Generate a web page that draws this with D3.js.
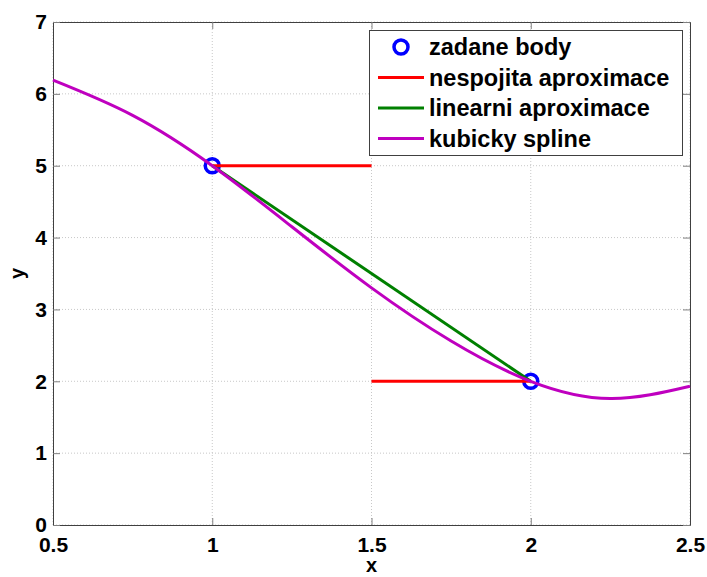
<!DOCTYPE html>
<html><head><meta charset="utf-8">
<script src="https://cdn.jsdelivr.net/npm/d3@7"></script>
<style>body{margin:0;background:#fff}svg{display:block}</style>
</head><body>
<script>
const givenX = [1, 2];
const givenY = [5, 2];
const stepSegments = [[[1, 5], [1.5, 5]], [[1.5, 2], [2, 2]]];
const linearX = [1, 2];
const linearY = [5, 2];
const splineX = [0.5, 0.75, 1, 1.25, 1.5, 1.75, 2, 2.25, 2.5];
const splineY = [6.19, 5.70, 5.0, 4.15, 3.30, 2.56, 2.0, 1.76, 1.93];
const xTicks = [0.5, 1, 1.5, 2, 2.5];
const yTicks = [0, 1, 2, 3, 4, 5, 6, 7];
const legendLabels = ["zadane body", "nespojita aproximace", "linearni aproximace", "kubicky spline"];

const W = 707, H = 577;
const m = {l: 53, r: 17, t: 22, b: 52};
const svg = d3.select("body").append("svg").attr("width", W).attr("height", H);
const x = d3.scaleLinear().domain([0.5, 2.5]).range([m.l, W - m.r]);
const y = d3.scaleLinear().domain([0, 7]).range([H - m.b, m.t]);
const font = "'Liberation Sans', Arial, sans-serif";

// grid
const g = svg.append("g");
g.selectAll(".gx").data(xTicks).join("line")
  .attr("x1", d => x(d)).attr("x2", d => x(d)).attr("y1", y(0)).attr("y2", y(7))
  .attr("stroke", "#c8c8c8").attr("stroke-dasharray", "1,2");
g.selectAll(".gy").data(yTicks).join("line")
  .attr("y1", d => y(d)).attr("y2", d => y(d)).attr("x1", x(0.5)).attr("x2", x(2.5))
  .attr("stroke", "#c8c8c8").attr("stroke-dasharray", "1,2");

// axes with inner ticks
const axB = d3.axisBottom(x).tickValues(xTicks).tickSizeInner(-7).tickSizeOuter(0).tickPadding(12).tickFormat(d3.format(""));
const axT = d3.axisTop(x).tickValues(xTicks).tickSizeInner(-7).tickSizeOuter(0).tickFormat("");
const axL = d3.axisLeft(y).tickValues(yTicks).tickSizeInner(-7).tickSizeOuter(0).tickPadding(6).tickFormat(d3.format(""));
const axR = d3.axisRight(y).tickValues(yTicks).tickSizeInner(-7).tickSizeOuter(0).tickFormat("");
function style(sel){
  sel.select(".domain").attr("stroke", "#404040");
  sel.selectAll(".tick line").attr("stroke", "#808080");
  sel.selectAll("text").attr("fill", "#000").style("font-family", font).style("font-size", "21px").style("font-weight", "bold");
}
svg.append("g").attr("transform", `translate(0,${y(0)})`).call(axB).call(style);
svg.append("g").attr("transform", `translate(0,${y(7)})`).call(axT).call(style);
svg.append("g").attr("transform", `translate(${x(0.5)},0)`).call(axL).call(style);
svg.append("g").attr("transform", `translate(${x(2.5)},0)`).call(axR).call(style);

// axis labels
svg.append("text").attr("x", x(1.5)).attr("y", 572).attr("text-anchor", "middle")
  .style("font-family", font).style("font-size", "20px").style("font-weight", "bold").text("x");
svg.append("text").attr("transform", `translate(24,${y(3.5)}) rotate(-90)`).attr("text-anchor", "middle")
  .style("font-family", font).style("font-size", "20px").style("font-weight", "bold").text("y");

// data
const plot = svg.append("g");
plot.selectAll(".pt").data(givenX.map((d, i) => [d, givenY[i]])).join("circle")
  .attr("cx", d => x(d[0])).attr("cy", d => y(d[1])).attr("r", 7)
  .attr("fill", "none").attr("stroke", "#0000ff").attr("stroke-width", 3.5);
const line = d3.line().x(d => x(d[0])).y(d => y(d[1]));
stepSegments.forEach(s => plot.append("path").attr("d", line(s)).attr("stroke", "#ff0000").attr("stroke-width", 3).attr("fill", "none"));
plot.append("path").attr("d", line(linearX.map((d, i) => [d, linearY[i]]))).attr("stroke", "#008000").attr("stroke-width", 3).attr("fill", "none");
plot.append("path").attr("d", line.curve(d3.curveNatural)(splineX.map((d, i) => [d, splineY[i]])))
  .attr("stroke", "#bf00bf").attr("stroke-width", 3).attr("fill", "none");

// legend
const lg = svg.append("g");
lg.append("rect").attr("x", 369.5).attr("y", 30.5).attr("width", 313).attr("height", 125)
  .attr("fill", "#fff").attr("stroke", "#404040");
const colors = [null, "#ff0000", "#008000", "#bf00bf"];
legendLabels.forEach((t, i) => {
  const cy = 47 + i * 30.5;
  if (i === 0) {
    lg.append("circle").attr("cx", 401).attr("cy", cy).attr("r", 7).attr("fill", "none").attr("stroke", "#0000ff").attr("stroke-width", 3.5);
  } else {
    lg.append("line").attr("x1", 378).attr("x2", 424).attr("y1", cy).attr("y2", cy).attr("stroke", colors[i]).attr("stroke-width", 3);
  }
  lg.append("text").attr("x", 429).attr("y", cy + 8).style("font-family", font).style("font-size", "23.5px").style("font-weight", "bold").text(t);
});
</script>
</body></html>
